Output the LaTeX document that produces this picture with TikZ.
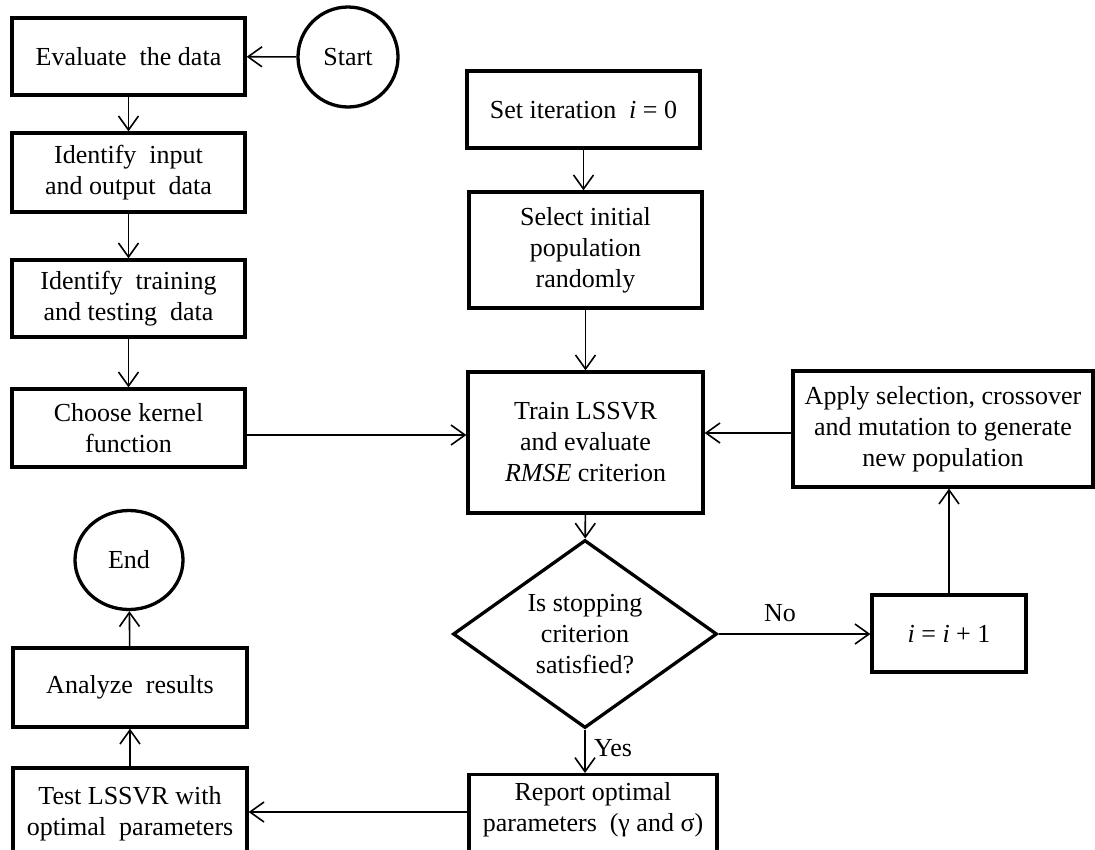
\documentclass[tikz,border=0pt]{standalone}
\usepackage{fontspec}
\setmainfont{Liberation Serif}
\usetikzlibrary{arrows.meta,shapes.geometric}
\newcommand\figfont{\fontsize{26}{31}\selectfont}
\begin{document}
\begin{tikzpicture}[x=1pt,y=-1pt,
  box/.style={draw, line width=3.3pt, rectangle, inner sep=0pt, align=center, font=\figfont},
  term/.style={draw, line width=3.3pt, ellipse, inner sep=0pt, align=center, font=\figfont},
  decision/.style={draw, line width=3.3pt, diamond, shape aspect=1.4, inner sep=0pt, align=center, font=\figfont},
  txt/.style={inner sep=0pt, align=center, font=\figfont},
  arr/.style={line width=1.6pt, -{Straight Barb[length=14pt,width=20pt,line width=1.6pt]}}]
\useasboundingbox (0,0) rectangle (1095,849);
\fill[white] (0,0) rectangle (1095,849);
% left column
\node[box, minimum width=233pt, minimum height=77pt] (eval) at (128.5,56.5) {Evaluate \ the data};
\node[term, minimum width=100pt, minimum height=100pt] (start) at (348,57) {Start};
\node[box, minimum width=233pt, minimum height=79pt] (input) at (128.5,172.5) {Identify \ input\\and output \ data};
\node[box, minimum width=233pt, minimum height=77pt] (tdata) at (128.5,298.5) {Identify \ training\\and testing \ data};
\node[box, minimum width=233pt, minimum height=78pt] (kernel) at (128.5,428) {Choose kernel\\function};
\node[term, minimum width=108pt, minimum height=99pt] (endn) at (129,560) {End};
\node[box, minimum width=234pt, minimum height=79pt] (analyze) at (130,687.5) {Analyze \ results};
\node[box, minimum width=234pt, minimum height=91pt] (test) at (130,813.5) {Test LSSVR with\\optimal \ parameters};
% centre column
\node[box, minimum width=233pt, minimum height=77pt] (setit) at (583.5,109.5) {Set iteration \ \textit{i} = 0};
\node[box, minimum width=233pt, minimum height=116pt] (select) at (585.5,250) {Select initial\\population\\randomly};
\node[box, minimum width=235pt, minimum height=141pt] (train) at (585.5,442.5) {Train LSSVR\\and evaluate\\\textit{RMSE} criterion};
\node[decision, minimum width=264pt, minimum height=188pt] (stop) at (585,634) {Is stopping\\criterion\\satisfied?};
\node[box, minimum width=248pt, minimum height=90pt, anchor=north] (report) at (593,773) {};
\node[txt] (reporttxt) at (593,810) {Report optimal\\parameters \ (γ and σ)};
% right column
\node[box, minimum width=300pt, minimum height=116pt] (apply) at (943,429) {Apply selection, crossover\\and mutation to generate\\new population};
\node[box, minimum width=154pt, minimum height=77pt] (incr) at (949,633.5) {\textit{i} = \textit{i} + 1};
% labels
\node[txt] (nolab) at (780,613) {No};
\node[txt] (yeslab) at (613,748) {Yes};
% connectors
\draw[arr] (start) -- (eval);
\draw[arr] (eval) -- (input);
\draw[arr] (input) -- (tdata);
\draw[arr] (tdata) -- (kernel);
\draw[arr] ([yshift=-7pt]kernel.east) -- ([yshift=-7pt]kernel.east -| train.west);
\draw[arr] ([yshift=-4pt]apply.west) -- ([yshift=-4pt]apply.west -| train.east);
\draw[arr] (setit.south) -- (setit.south |- select.north);
\draw[arr] (select) -- (train);
\draw[arr] (train) -- (stop);
\draw[arr] (stop.east) -- (stop.east -| incr.west);
\draw[arr] (incr.north) -- (incr.north |- apply.south);
\draw[arr] (stop.south) -- (stop.south |- report.north);
\draw[arr] (report.west |- 0,812) -- (test.east |- 0,812);
\draw[arr] (test) -- (analyze);
\draw[arr] (analyze) -- (endn);
\end{tikzpicture}
\end{document}
